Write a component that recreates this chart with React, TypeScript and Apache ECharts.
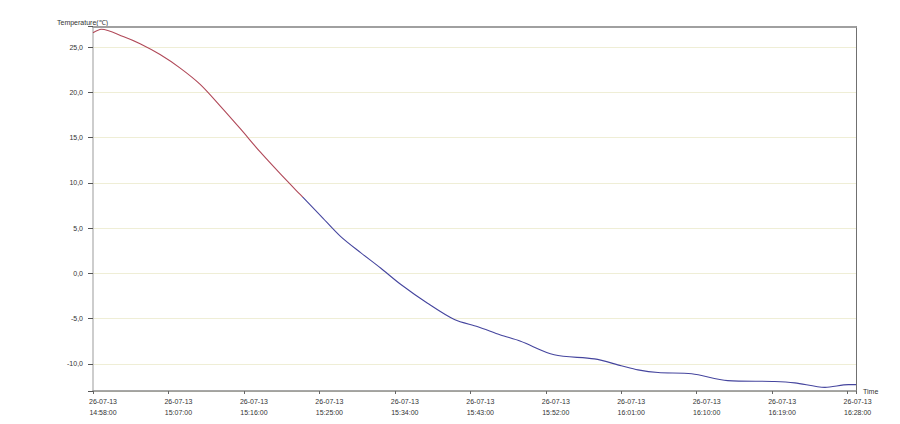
import React, { useEffect, useRef } from "react";
import * as echarts from "echarts";

// ---- data ----
const DATE_LABEL = "26-07-13";
const START_TIME = "14:58:00";
const END_TIME = "16:29:00";
const X_TICK_STEP_MIN = 9;

const TIMES = [
  "14:58:00", "14:59:00", "15:01:36", "15:03:37", "15:06:00", "15:08:24",
  "15:10:47", "15:13:11", "15:15:34", "15:17:58", "15:20:21", "15:22:44",
  "15:25:08", "15:27:31", "15:29:55", "15:32:18", "15:34:41", "15:37:54",
  "15:41:06", "15:43:54", "15:46:36", "15:49:00", "15:53:00", "15:57:48",
  "16:01:00", "16:03:00", "16:05:24", "16:09:24", "16:13:42", "16:19:18",
  "16:21:42", "16:25:18", "16:28:06", "16:29:00",
];
const TEMPS = [
  26.6, 27.0, 26.2, 25.4, 24.2, 22.7,
  20.9, 18.5, 16.0, 13.4, 11.0, 8.7,
  6.4, 4.1, 2.3, 0.6, -1.2, -3.3,
  -5.1, -5.9, -6.8, -7.5, -9.0, -9.45,
  -10.2, -10.66, -10.96, -11.1, -11.85, -11.95,
  -12.1, -12.6, -12.3, -12.3,
];
const Y_TICK_STEP = 5;
const Y_MIN = -13;
const Y_MAX = 27.3;
const COLOR_THRESHOLD = 8.5;
const Y_NAME = "Temperature(℃)";
const X_NAME = "Time";

const RED = "#b04858";
const BLUE = "#45459e";
const TEXT = "#333";
const FONT = "'Liberation Sans', Arial, sans-serif";

function toSec(t: string): number {
  const [h, m, s] = t.split(":").map(Number);
  return h * 3600 + m * 60 + s;
}
const START_SEC = toSec(START_TIME);
const X_MAX = toSec(END_TIME) - START_SEC;
const X_STEP = X_TICK_STEP_MIN * 60;

function pad(n: number) {
  return n < 10 ? "0" + n : "" + n;
}
function fmt(sec: number): string {
  const t = START_SEC + Math.round(sec);
  const h = Math.floor(t / 3600);
  const m = Math.floor((t % 3600) / 60);
  const s = t % 60;
  return `${pad(h)}:${pad(m)}:${pad(s)}`;
}

export default function App() {
  const ref = useRef<HTMLDivElement>(null);
  useEffect(() => {
    if (!ref.current) return;
    const chart = echarts.init(ref.current, null, { renderer: "svg" });
    const data = TIMES.map((t, i) => [toSec(t) - START_SEC, TEMPS[i]]);
    const hi = Math.max(...TEMPS);
    const lo = Math.min(...TEMPS);
    const off = (hi - COLOR_THRESHOLD) / (hi - lo);
    const lineColor = new echarts.graphic.LinearGradient(0, 0, 0, 1, [
      { offset: 0, color: RED },
      { offset: off, color: RED },
      { offset: off, color: BLUE },
      { offset: 1, color: BLUE },
    ]);
    const option: any = {
      animation: false,
      backgroundColor: "#ffffff",
      grid: { left: 93, right: 44, top: 26.5, bottom: 33 },
      graphic: [
        {
          type: "text",
          x: 57,
          y: 22.5,
          style: {
            text: Y_NAME,
            fontSize: 7,
            fontFamily: FONT,
            fill: TEXT,
            verticalAlign: "middle",
          },
        },
      ],
      xAxis: [
        {
          type: "value",
          min: 0,
          max: X_MAX,
          interval: X_STEP,
          name: X_NAME,
          nameLocation: "end",
          nameGap: 7,
          nameTextStyle: { fontSize: 7, fontFamily: FONT, color: TEXT },
          axisLine: { show: true, onZero: false, lineStyle: { color: "#8a8a8a", width: 1.5 } },
          axisTick: { show: true, length: 3, lineStyle: { color: "#666" } },
          axisLabel: {
            show: true,
            formatter: (v: number) => (v % X_STEP !== 0 ? "" : `${DATE_LABEL}\n${fmt(v)}`),
            fontSize: 7,
            fontFamily: FONT,
            color: TEXT,
            lineHeight: 11,
            margin: 4.5,
            padding: [0, 0, 0, 20],
          },
          splitLine: { show: false },
        },
        {
          type: "value",
          position: "top",
          min: 0,
          max: X_MAX,
          axisLine: { show: true, onZero: false, lineStyle: { color: "#a0a0a0", width: 2 } },
          axisTick: { show: false },
          axisLabel: { show: false },
          splitLine: { show: false },
        },
      ],
      yAxis: [
        {
          type: "value",
          min: Y_MIN,
          max: Y_MAX,
          splitNumber: 8,
          axisLine: { show: true, onZero: false, lineStyle: { color: "#bdbdbd", width: 1.5 } },
          axisTick: { show: true, length: 5, lineStyle: { color: "#555" } },
          axisLabel: {
            show: true,
            formatter: (v: number) =>
              Math.abs(v % Y_TICK_STEP) > 1e-6 ? "" : v.toFixed(1).replace(".", ","),
            fontSize: 7,
            fontFamily: FONT,
            color: TEXT,
            margin: 10,
          },
          splitLine: { show: true, lineStyle: { color: "#efeed6", width: 1 } },
        },
        {
          type: "value",
          position: "right",
          min: Y_MIN,
          max: Y_MAX,
          axisLine: { show: true, onZero: false, lineStyle: { color: "#707070", width: 1 } },
          axisTick: { show: false },
          axisLabel: { show: false },
          splitLine: { show: false },
        },
      ],
      series: [
        {
          type: "line",
          xAxisIndex: 0,
          yAxisIndex: 0,
          data,
          showSymbol: false,
          smooth: 0.3,
          lineStyle: { width: 1.1, color: lineColor },
        },
      ],
    };
    chart.setOption(option);
    return () => chart.dispose();
  }, []);
  return (
    <div
      ref={ref}
      style={{ position: "absolute", left: 0, top: 0, width: 900, height: 424, background: "#fff" }}
    />
  );
}
